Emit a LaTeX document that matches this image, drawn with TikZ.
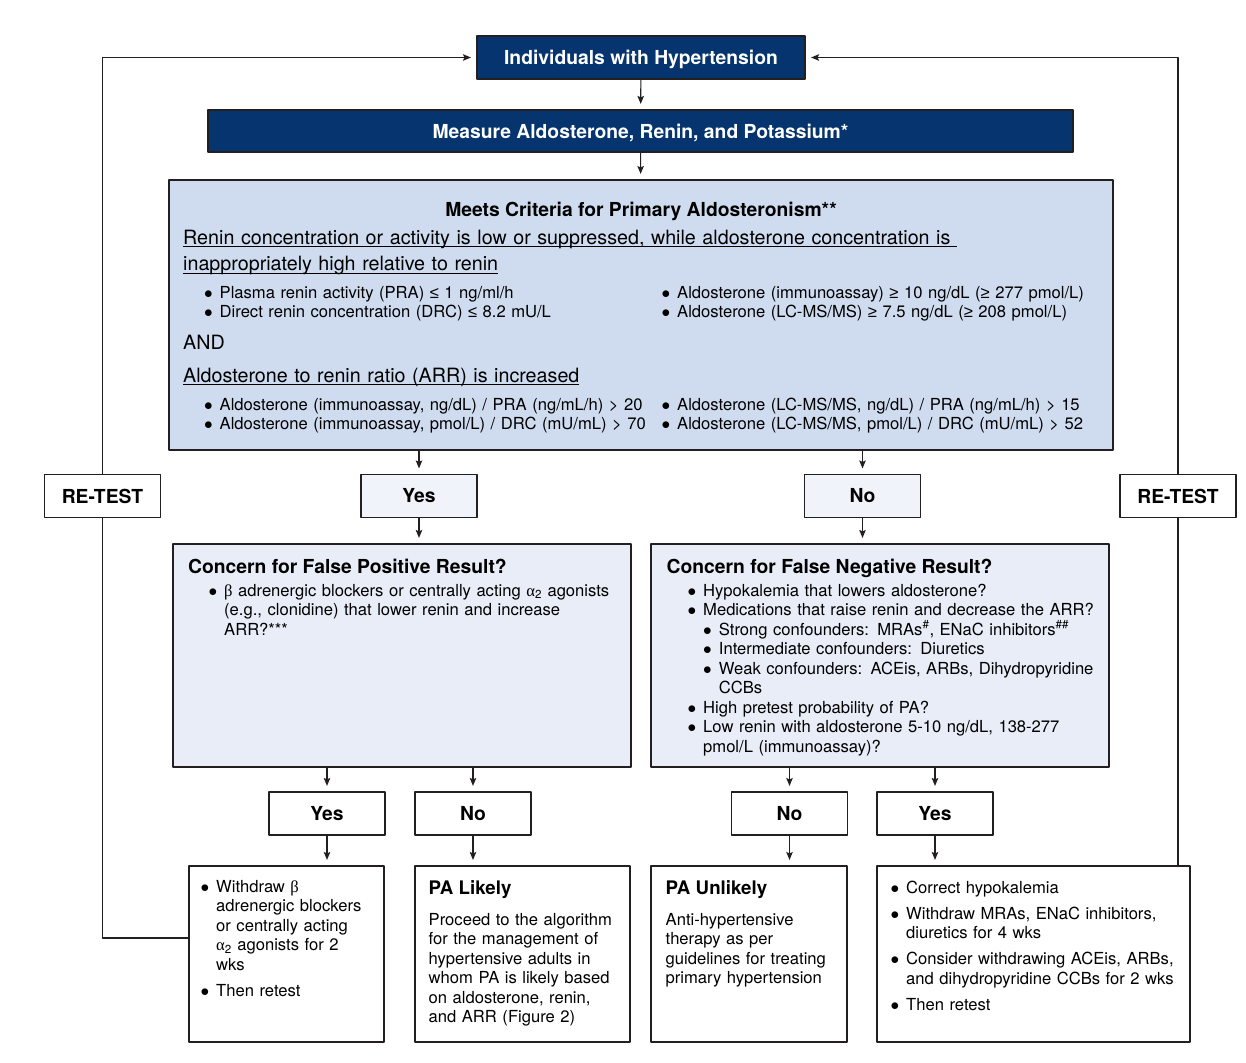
\documentclass[tikz,border=0pt]{standalone}
\usepackage{fontspec}
\setmainfont{TeX Gyre Heros}
\newfontfamily\grk{Liberation Serif}
\newfontfamily\symf{Liberation Sans}
\usetikzlibrary{arrows.meta}
\definecolor{navy}{RGB}{6,52,110}
\definecolor{critblue}{RGB}{207,220,240}
\definecolor{concernblue}{RGB}{232,237,247}
\definecolor{answerblue}{RGB}{240,243,250}
\definecolor{edge}{RGB}{35,31,32}
\newcommand\body{\fontsize{16.6}{19.5}\selectfont}
\newcommand\hbold{\fontsize{19.3}{23}\selectfont\bfseries}
\newcommand\tbold{\fontsize{18.7}{23}\selectfont\bfseries}
\newcommand\head{\fontsize{19.7}{26.5}\selectfont}
\newcommand\bul{\makebox[15.7pt][l]{$\bullet$}}
\newcommand\ind{\hspace*{15.7pt}}
\newcommand\lesym{{\symf ≤}}
\newcommand\gesym{{\symf ≥}}
\newsavebox\ulsave
\newcommand\uln[1]{\sbox\ulsave{#1}\rlap{\rule[-3pt]{\wd\ulsave}{1pt}}\usebox\ulsave}
\begin{document}
\begin{tikzpicture}[x=1pt, y=-1pt, line join=round,
  frame/.style={draw=edge, line width=1.1pt, inner sep=0pt},
  navybox/.style={frame, fill=navy, text=white, font=\hbold, text height=16pt, text depth=1pt},
  answer/.style={frame, fill=white, minimum width=116, minimum height=43, font=\hbold},
  txt/.style={anchor=base west, inner sep=0pt, align=left, text width=#1, font=\body},
  txt/.default=480,
  title/.style={anchor=base west, inner sep=0pt, font=\hbold},
  link/.style={draw=edge, line width=1.1pt},
  arr/.style={link, -{Stealth[length=8pt,width=6.5pt,inset=1.5pt]}, shorten >=5.5pt}]
\useasboundingbox (0,0) rectangle (1246,1062);
% boxes
\node[navybox, minimum width=328, minimum height=43] (indiv) at (641,57.5) {Individuals with Hypertension};
\node[navybox, minimum width=865, minimum height=42] (measure) at (640.5,131) {Measure Aldosterone, Renin, and Potassium*};
\node[frame, fill=critblue, minimum width=944, minimum height=270] (crit) at (641,315) {};
\node[answer, fill=answerblue] (yes1) at (419,496) {Yes};
\node[answer, fill=answerblue] (no1) at (862.5,496) {No};
\node[answer] (retestL) at (102.5,496) {RE-TEST};
\node[answer] (retestR) at (1178,496) {RE-TEST};
\node[frame, fill=concernblue, minimum width=458, minimum height=223] (fp) at (402,655.5) {};
\node[frame, fill=concernblue, minimum width=458, minimum height=223] (fn) at (880,655.5) {};
\node[answer] (yes2) at (327,813.5) {Yes};
\node[answer] (no2) at (473,813.5) {No};
\node[answer] (no3) at (789.5,813.5) {No};
\node[answer] (yes3) at (935,813.5) {Yes};
\node[frame, minimum width=195, minimum height=176] (withdraw) at (286.5,954) {};
\node[frame, minimum width=215, minimum height=176] (likely) at (522.5,954) {};
\node[frame, minimum width=196, minimum height=176] (unlikely) at (749,954) {};
\node[frame, minimum width=313, minimum height=176] (correct) at (1033.5,954) {};
% criteria
\node[title, anchor=base] (crittitle) at (641,216) {Meets Criteria for Primary Aldosteronism**};
\node[txt=920, font=\head] (lowrenin) at (183,244) {\uln{Renin concentration or activity is low or suppressed, while aldosterone concentration is\ }};
\node[txt=920, font=\head] (highaldo) at (183,270.5) {\uln{inappropriately high relative to renin}};
\node[txt] (reninL) at (203.8,298) {\bul Plasma renin activity (PRA) \lesym\ 1 ng/ml/h\\
  \bul Direct renin concentration (DRC) \lesym\ 8.2 mU/L};
\node[txt] (aldoR) at (661.3,298) {\bul Aldosterone (immunoassay) \gesym\ 10 ng/dL (\gesym\ 277 pmol/L)\\
  \bul Aldosterone (LC-MS/MS) \gesym\ 7.5 ng/dL (\gesym\ 208 pmol/L)};
\node[txt, font=\head] (and) at (183,349) {AND};
\node[txt, font=\head] (arrhead) at (183,382) {\uln{Aldosterone to renin ratio (ARR) is increased}};
\node[txt] (arrL) at (203.8,410) {\bul Aldosterone (immunoassay, ng/dL) / PRA (ng/mL/h) > 20\\
  \bul Aldosterone (immunoassay, pmol/L) / DRC (mU/mL) > 70};
\node[txt] (arrR) at (661.3,410) {\bul Aldosterone (LC-MS/MS, ng/dL) / PRA (ng/mL/h) > 15\\
  \bul Aldosterone (LC-MS/MS, pmol/L) / DRC (mU/mL) > 52};
% concerns
\node[title] (fptitle) at (188,573) {Concern for False Positive Result?};
\node[txt] (fptext) at (208.3,596) {\bul{\grk β} adrenergic blockers or centrally acting {\grk α}\textsubscript{2} agonists\\
  \ind(e.g., clonidine) that lower renin and increase\\
  \ind ARR?***};
\node[title] (fntitle) at (666.5,573) {Concern for False Negative Result?};
\node[txt] (fntext) at (687.3,596) {\bul Hypokalemia that lowers aldosterone?\\
  \bul Medications that raise renin and decrease the ARR?\\
  \ind\bul Strong confounders: MRAs\textsuperscript{\#}, ENaC inhibitors\textsuperscript{\#\#}\\
  \ind\bul Intermediate confounders: Diuretics\\
  \ind\bul Weak confounders: ACEis, ARBs, Dihydropyridine\\
  \ind\ind CCBs\\
  \bul High pretest probability of PA?\\
  \bul Low renin with aldosterone 5-10 ng/dL, 138-277\\
  \ind pmol/L (immunoassay)?};
% outcomes
\node[txt=190] (wdtext) at (200.3,892) {\bul Withdraw {\grk β}\\
  \ind adrenergic blockers\\
  \ind or centrally acting\\
  \ind{\grk α}\textsubscript{2} agonists for 2\\
  \ind wks\\[7pt]
  \bul Then retest};
\node[title, font=\tbold] (lktitle) at (428.5,894) {PA Likely};
\node[txt=210] (lktext) at (428.5,925) {Proceed to the algorithm\\
  for the management of\\
  hypertensive adults in\\
  whom PA is likely based\\
  on aldosterone, renin,\\
  and ARR (Figure 2)};
\node[title, font=\tbold] (ultitle) at (665.5,894) {PA Unlikely};
\node[txt=190] (ultext) at (665.5,925) {Anti-hypertensive\\
  therapy as per\\
  guidelines for treating\\
  primary hypertension};
\node[txt=310] (crtext) at (890.3,893) {\bul Correct hypokalemia\\[6.5pt]
  \bul Withdraw MRAs, ENaC inhibitors,\\
  \ind diuretics for 4 wks\\[6.5pt]
  \bul Consider withdrawing ACEis, ARBs,\\
  \ind and dihydropyridine CCBs for 2 wks\\[6.5pt]
  \bul Then retest};
% connectors
\draw[arr] (indiv) -- (measure);
\draw[arr] (measure) -- (crit);
\draw[arr] (crit.south -| yes1) -- (yes1);
\draw[arr] (crit.south -| no1) -- (no1);
\draw[arr] (yes1) -- (fp.north -| yes1);
\draw[arr] (no1) -- (fn.north -| no1);
\draw[arr] (fp.south -| yes2) -- (yes2);
\draw[arr] (fp.south -| no2) -- (no2);
\draw[arr] (fn.south -| no3) -- (no3);
\draw[arr] (fn.south -| yes3) -- (yes3);
\draw[arr] (yes2) -- (withdraw.north -| yes2);
\draw[arr] (no2) -- (likely.north -| no2);
\draw[arr] (no3) -- (unlikely.north -| no3);
\draw[arr] (yes3) -- (correct.north -| yes3);
\draw[link] ([yshift=16pt]withdraw.west) -| (retestL.south);
\draw[arr] (retestL.north) |- (indiv.west);
\draw[link] (correct.north -| retestR) -- (retestR.south);
\draw[arr] (retestR.north) |- (indiv.east);
\end{tikzpicture}
\end{document}
